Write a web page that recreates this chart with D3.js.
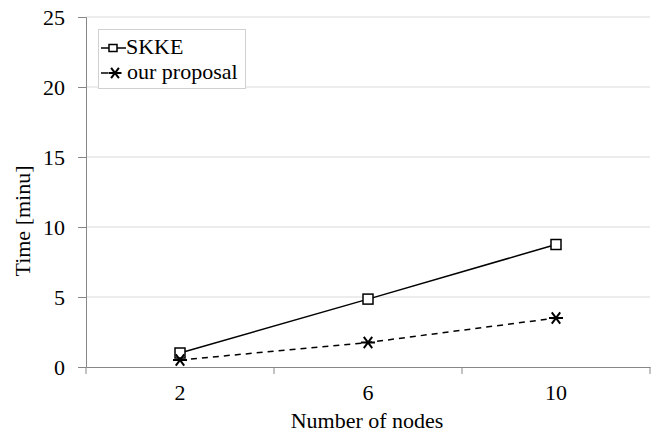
<!DOCTYPE html>
<html>
<head>
<meta charset="utf-8">
<script src="https://cdn.jsdelivr.net/npm/d3@7"></script>
<style>
  body { margin: 0; background: #fff; }
</style>
</head>
<body>
<div id="chart"></div>
<script>
// data
const nodes = ["2", "6", "10"];
const skke = [1.0, 4.85, 8.75];
const proposal = [0.5, 1.75, 3.5];
const yTicks = [0, 5, 10, 15, 20, 25];

const W = 652, H = 437;
const margin = {top: 17, right: 2, bottom: 70, left: 86};
const FONT = '"Liberation Serif", "Times New Roman", "DejaVu Serif", serif';

const svg = d3.select("#chart").append("svg")
  .attr("width", W).attr("height", H);

const x = d3.scaleBand().domain(nodes).range([margin.left, W - margin.right]);
const y = d3.scaleLinear().domain([0, 25]).range([H - margin.bottom, margin.top]);

// gridlines
svg.append("g").selectAll("line")
  .data(yTicks.filter(d => d > 0))
  .join("line")
  .attr("x1", margin.left).attr("x2", W - margin.right)
  .attr("y1", d => y(d)).attr("y2", d => y(d))
  .attr("stroke", "#d9d9d9").attr("stroke-width", 1);

// y axis
const yAxis = svg.append("g")
  .attr("transform", `translate(${margin.left},0)`)
  .call(d3.axisLeft(y).tickValues(yTicks).tickSize(8).tickPadding(13));
yAxis.attr("font-family", null).attr("font-size", null);
yAxis.selectAll("line, path").attr("stroke", "#878787");
yAxis.selectAll("text").style("font-family", FONT).style("font-size", "22px").attr("fill", "#000")
  .attr("dy", "0.34em");

// x axis, ticks between categories
const xAxis = svg.append("g")
  .attr("transform", `translate(0,${y(0)})`)
  .call(d3.axisBottom(x).tickSize(0).tickPadding(0));
xAxis.attr("font-family", null).attr("font-size", null);
xAxis.select("path").attr("stroke", "#878787");
xAxis.selectAll("text").style("font-family", FONT).style("font-size", "22px").attr("fill", "#000")
  .attr("y", 33).attr("dy", null);
const bounds = nodes.map(d => x(d)).concat([x(nodes[nodes.length - 1]) + x.bandwidth()]);
xAxis.selectAll(".sep").data(bounds).join("line")
  .attr("class", "sep")
  .attr("x1", d => d).attr("x2", d => d)
  .attr("y1", 0).attr("y2", 7)
  .attr("stroke", "#878787");

// lines
const cx = i => x(nodes[i]) + x.bandwidth() / 2;
const line = d3.line().x((d, i) => cx(i)).y(d => y(d));

svg.append("path").datum(proposal)
  .attr("d", line).attr("fill", "none")
  .attr("stroke", "#000").attr("stroke-width", 1.5)
  .attr("stroke-dasharray", "6,5");

svg.append("path").datum(skke)
  .attr("d", line).attr("fill", "none")
  .attr("stroke", "#000").attr("stroke-width", 1.5);

// markers
function square(g, px, py, s) {
  g.append("rect").attr("x", px - s / 2).attr("y", py - s / 2)
    .attr("width", s).attr("height", s)
    .attr("fill", "#fff").attr("stroke", "#000").attr("stroke-width", 1.5);
}
function star(g, px, py, r) {
  const s = "M" + (px - r) + "," + py + "H" + (px + r) +
    "M" + (px - r * 0.6) + "," + (py - r * 0.8) + "L" + (px + r * 0.6) + "," + (py + r * 0.8) +
    "M" + (px + r * 0.6) + "," + (py - r * 0.8) + "L" + (px - r * 0.6) + "," + (py + r * 0.8);
  g.append("path").attr("d", s).attr("stroke", "#000").attr("stroke-width", 2).attr("fill", "none");
}

const marks = svg.append("g");
skke.forEach((d, i) => square(marks, cx(i), y(d), 10));
proposal.forEach((d, i) => star(marks, cx(i), y(d), 7));

// legend
const leg = svg.append("g");
leg.append("rect").attr("x", 98.5).attr("y", 29.5).attr("width", 147).attr("height", 59)
  .attr("fill", "#fff").attr("stroke", "#d0d0d0");
leg.append("line").attr("x1", 101).attr("x2", 126).attr("y1", 48).attr("y2", 48)
  .attr("stroke", "#000").attr("stroke-width", 1.5);
leg.append("rect").attr("x", 109).attr("y", 44.5).attr("width", 8).attr("height", 7)
  .attr("fill", "#fff").attr("stroke", "#000").attr("stroke-width", 1.5);
leg.append("text").attr("x", 126).attr("y", 54)
  .style("font-family", FONT).style("font-size", "22px").text("SKKE");
leg.append("line").attr("x1", 101).attr("x2", 108).attr("y1", 73).attr("y2", 73)
  .attr("stroke", "#000").attr("stroke-width", 1.5);
star(leg, 115, 73, 6.5);
leg.append("text").attr("x", 127).attr("y", 79)
  .style("font-family", FONT).style("font-size", "22px").text("our proposal");

// axis titles
svg.append("text")
  .attr("transform", "translate(30,221) rotate(-90)")
  .attr("text-anchor", "middle")
  .style("font-family", FONT).style("font-size", "22px")
  .text("Time [minu]");
svg.append("text")
  .attr("x", 367).attr("y", 428)
  .attr("text-anchor", "middle")
  .style("font-family", FONT).style("font-size", "22px")
  .text("Number of nodes");
</script>
</body>
</html>
